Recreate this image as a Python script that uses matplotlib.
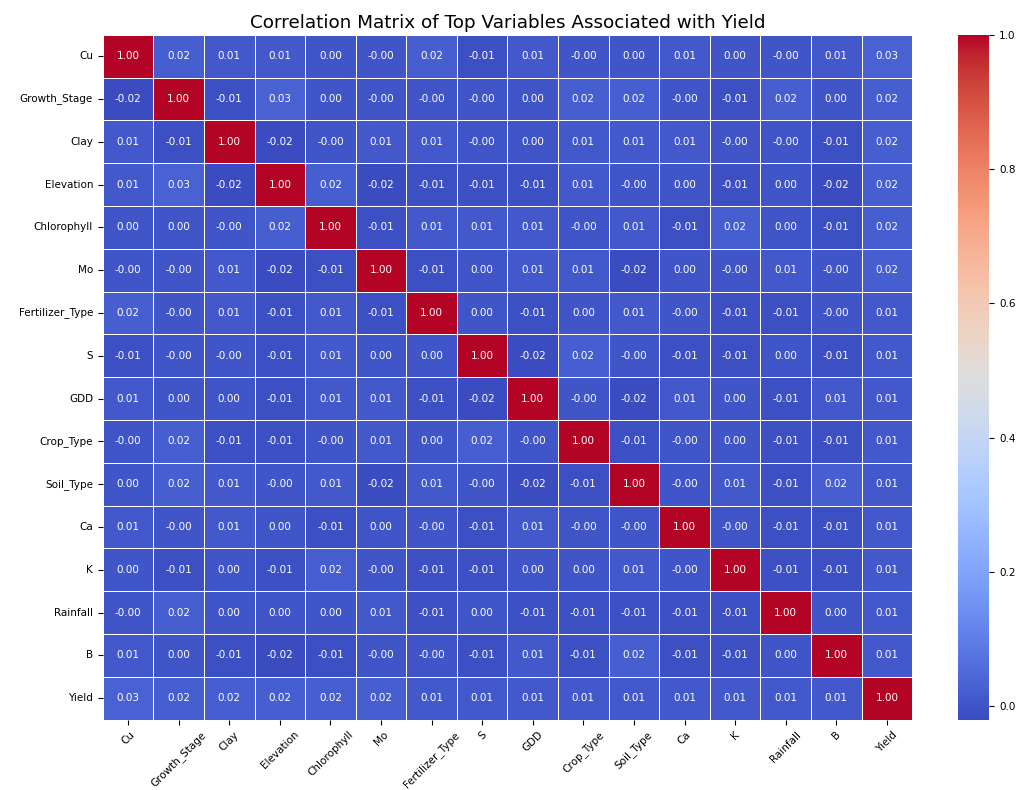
import numpy as np
import matplotlib
matplotlib.use("Agg")
import matplotlib.pyplot as plt
import seaborn as sns

variables = ["Cu", "Growth_Stage", "Clay", "Elevation", "Chlorophyll", "Mo",
             "Fertilizer_Type", "S", "GDD", "Crop_Type", "Soil_Type", "Ca",
             "K", "Rainfall", "B", "Yield"]

z = -0.0  # rounds to zero but is slightly negative
row_cu        = [1.00, 0.02, 0.01, 0.01, 0.00, z, 0.02, -0.01, 0.01, z, 0.00, 0.01, 0.00, z, 0.01, 0.03]
row_growth    = [-0.02, 1.00, -0.01, 0.03, 0.00, z, z, z, 0.00, 0.02, 0.02, z, -0.01, 0.02, 0.00, 0.02]
row_clay      = [0.01, -0.01, 1.00, -0.02, z, 0.01, 0.01, z, 0.00, 0.01, 0.01, 0.01, z, z, -0.01, 0.02]
row_elevation = [0.01, 0.03, -0.02, 1.00, 0.02, -0.02, -0.01, -0.01, -0.01, 0.01, z, 0.00, -0.01, 0.00, -0.02, 0.02]
row_chloro    = [0.00, 0.00, z, 0.02, 1.00, -0.01, 0.01, 0.01, 0.01, z, 0.01, -0.01, 0.02, 0.00, -0.01, 0.02]
row_mo        = [z, z, 0.01, -0.02, -0.01, 1.00, -0.01, 0.00, 0.01, 0.01, -0.02, 0.00, z, 0.01, z, 0.02]
row_fert      = [0.02, z, 0.01, -0.01, 0.01, -0.01, 1.00, 0.00, -0.01, 0.00, 0.01, z, -0.01, -0.01, z, 0.01]
row_s         = [-0.01, z, z, -0.01, 0.01, 0.00, 0.00, 1.00, -0.02, 0.02, z, -0.01, -0.01, 0.00, -0.01, 0.01]
row_gdd       = [0.01, 0.00, 0.00, -0.01, 0.01, 0.01, -0.01, -0.02, 1.00, z, -0.02, 0.01, 0.00, -0.01, 0.01, 0.01]
row_crop      = [z, 0.02, -0.01, -0.01, z, 0.01, 0.00, 0.02, z, 1.00, -0.01, z, 0.00, -0.01, -0.01, 0.01]
row_soil      = [0.00, 0.02, 0.01, z, 0.01, -0.02, 0.01, z, -0.02, -0.01, 1.00, z, 0.01, -0.01, 0.02, 0.01]
row_ca        = [0.01, z, 0.01, 0.00, -0.01, 0.00, z, -0.01, 0.01, z, z, 1.00, z, -0.01, -0.01, 0.01]
row_k         = [0.00, -0.01, 0.00, -0.01, 0.02, z, -0.01, -0.01, 0.00, 0.00, 0.01, z, 1.00, -0.01, -0.01, 0.01]
row_rainfall  = [z, 0.02, 0.00, 0.00, 0.00, 0.01, -0.01, 0.00, -0.01, -0.01, -0.01, -0.01, -0.01, 1.00, 0.00, 0.01]
row_b         = [0.01, 0.00, -0.01, -0.02, -0.01, z, z, -0.01, 0.01, -0.01, 0.02, -0.01, -0.01, 0.00, 1.00, 0.01]
row_yield     = [0.03, 0.02, 0.02, 0.02, 0.02, 0.02, 0.01, 0.01, 0.01, 0.01, 0.01, 0.01, 0.01, 0.01, 0.01, 1.00]

corr = np.array([row_cu, row_growth, row_clay, row_elevation, row_chloro, row_mo,
                 row_fert, row_s, row_gdd, row_crop, row_soil, row_ca, row_k,
                 row_rainfall, row_b, row_yield])

fig = plt.figure(figsize=(10.18, 7.90), dpi=100)
ax = fig.add_axes([0.101, 0.089, 0.795, 0.867])
cax = fig.add_axes([0.941, 0.089, 0.031, 0.867])

sns.heatmap(corr, ax=ax, cbar_ax=cax, cmap="coolwarm", annot=True, fmt=".2f",
            annot_kws={"fontsize": 7.5}, linewidths=0.5, linecolor="white",
            xticklabels=variables, yticklabels=variables)

ax.set_title("Correlation Matrix of Top Variables Associated with Yield",
             fontsize=13.2, pad=5)
ax.tick_params(axis="both", labelsize=7.5)
plt.setp(ax.get_xticklabels(), rotation=45, ha="center")
plt.setp(ax.get_yticklabels(), rotation=0)
cax.tick_params(labelsize=7.5)

fig.savefig("out.png", dpi=100)
